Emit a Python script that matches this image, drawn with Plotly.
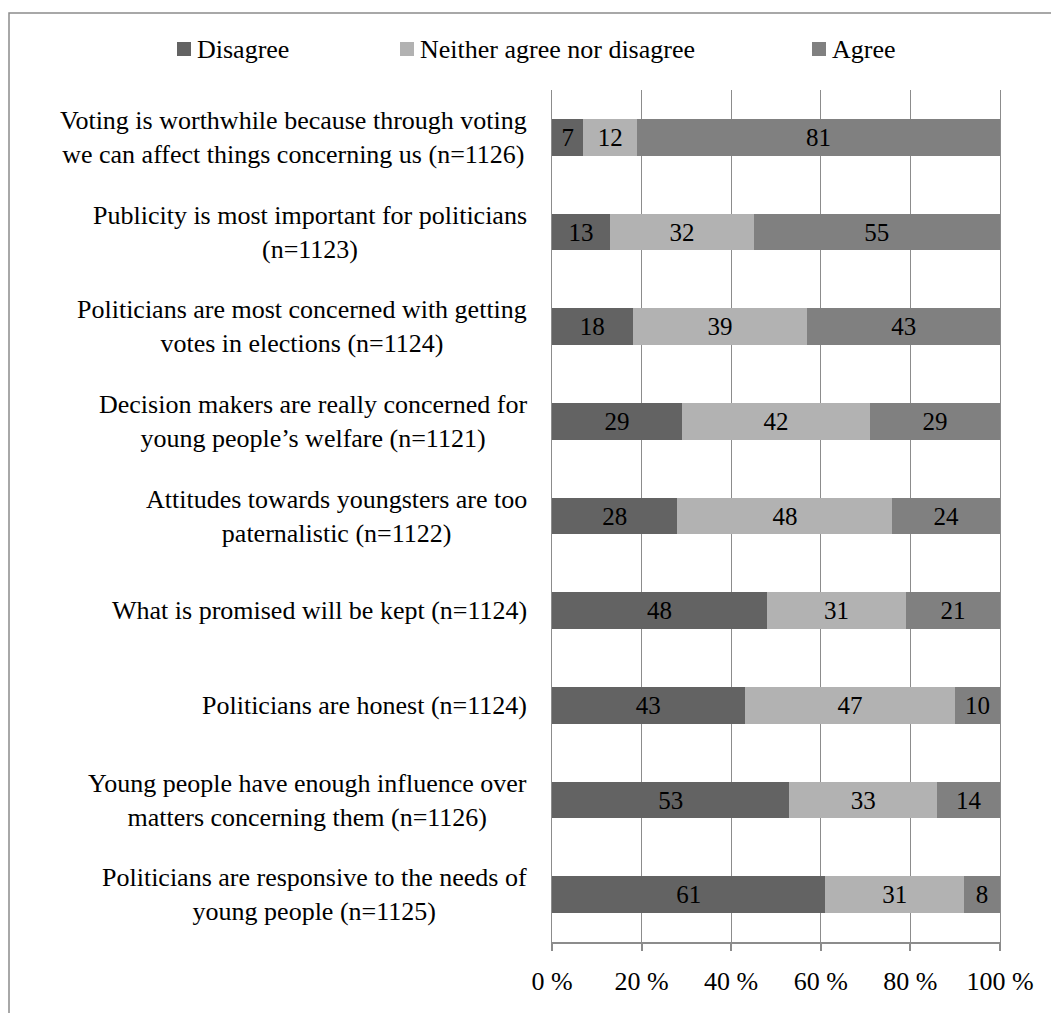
import plotly.graph_objects as go

categories = [
    "Voting is worthwhile because through voting<br>we can affect things concerning us (n=1126)",
    "Publicity is most important for politicians<br>(n=1123)",
    "Politicians are most concerned with getting<br>votes in elections (n=1124)",
    "Decision makers are really concerned for<br>young people’s welfare (n=1121)",
    "Attitudes towards youngsters are too<br>paternalistic (n=1122)",
    "What is promised will be kept (n=1124)",
    "Politicians are honest (n=1124)",
    "Young people have enough influence over<br>matters concerning them (n=1126)",
    "Politicians are responsive to the needs of<br>young people (n=1125)",
]
disagree = [7, 13, 18, 29, 28, 48, 43, 53, 61]
neither = [12, 32, 39, 42, 48, 31, 47, 33, 31]
agree = [81, 55, 43, 29, 24, 21, 10, 14, 8]
series_names = ["Disagree", "Neither agree nor disagree", "Agree"]
series_values = [disagree, neither, agree]
colors = ["#636363", "#b2b2b2", "#808080"]
tick_vals = [0, 20, 40, 60, 80, 100]
tick_text = ["0 %", "20 %", "40 %", "60 %", "80 %", "100 %"]

FONT = "'Times New Roman', 'Liberation Serif', 'DejaVu Serif', serif"
W, H = 1051, 1013
L, R, T, B = 552, 51, 90, 71
PW, PH = W - L - R, H - T - B

def px2x(px):
    return (px - L) / PW

def py2y(py):
    return (H - B - py) / PH

fig = go.Figure()
for name, vals, col in zip(series_names, series_values, colors):
    fig.add_trace(go.Bar(
        y=categories, x=vals, name=name, orientation="h",
        marker=dict(color=col, line=dict(width=0)),
        text=[str(v) for v in vals], textposition="inside",
        insidetextanchor="middle", textangle=0, constraintext="none",
        textfont=dict(family=FONT, size=25, color="black"),
        showlegend=False, hoverinfo="skip",
    ))

annotations = []
for cat in categories:
    annotations.append(dict(
        x=px2x(529), xref="paper", y=cat, yref="y",
        text=cat, showarrow=False, xanchor="right", yanchor="middle",
        align="center", font=dict(family=FONT, size=26, color="black"),
    ))

shapes = [dict(type="rect", xref="paper", yref="paper",
               x0=px2x(9), x1=px2x(1200), y0=py2y(1200), y1=py2y(13),
               line=dict(color="#8c8c8c", width=1.5), layer="below")]

legend_marker_x = [177, 400, 812]
for name, col, mx in zip(series_names, colors, legend_marker_x):
    shapes.append(dict(type="rect", xref="paper", yref="paper",
                       x0=px2x(mx), x1=px2x(mx + 14), y0=py2y(56), y1=py2y(42),
                       fillcolor=col, line=dict(width=0)))
    annotations.append(dict(
        x=px2x(mx + 18), xref="paper", y=py2y(50), yref="paper",
        text=name, showarrow=False, xanchor="left", yanchor="middle",
        font=dict(family=FONT, size=26, color="black"),
    ))

fig.update_layout(
    barmode="stack", bargap=0.61,
    width=W, height=H,
    margin=dict(l=L, r=R, t=T, b=B, pad=0),
    paper_bgcolor="white", plot_bgcolor="white",
    font=dict(family=FONT, size=26, color="black"),
    annotations=annotations,
    shapes=shapes,
    xaxis=dict(range=[0, 100], tickvals=tick_vals, ticktext=tick_text,
               showgrid=True, gridcolor="#8c8c8c", gridwidth=1.2,
               showline=True, linecolor="#8c8c8c", linewidth=1.5,
               ticks="outside", ticklen=7, tickcolor="#8c8c8c", tickwidth=1.5,
               ticklabelstandoff=8, zeroline=False,
               tickfont=dict(family=FONT, size=26, color="black")),
    yaxis=dict(autorange="reversed", showticklabels=False, showgrid=False,
               showline=True, mirror=True, linecolor="#8c8c8c", linewidth=1.2,
               ticks="", zeroline=False),
)

fig.write_html("out.html")
